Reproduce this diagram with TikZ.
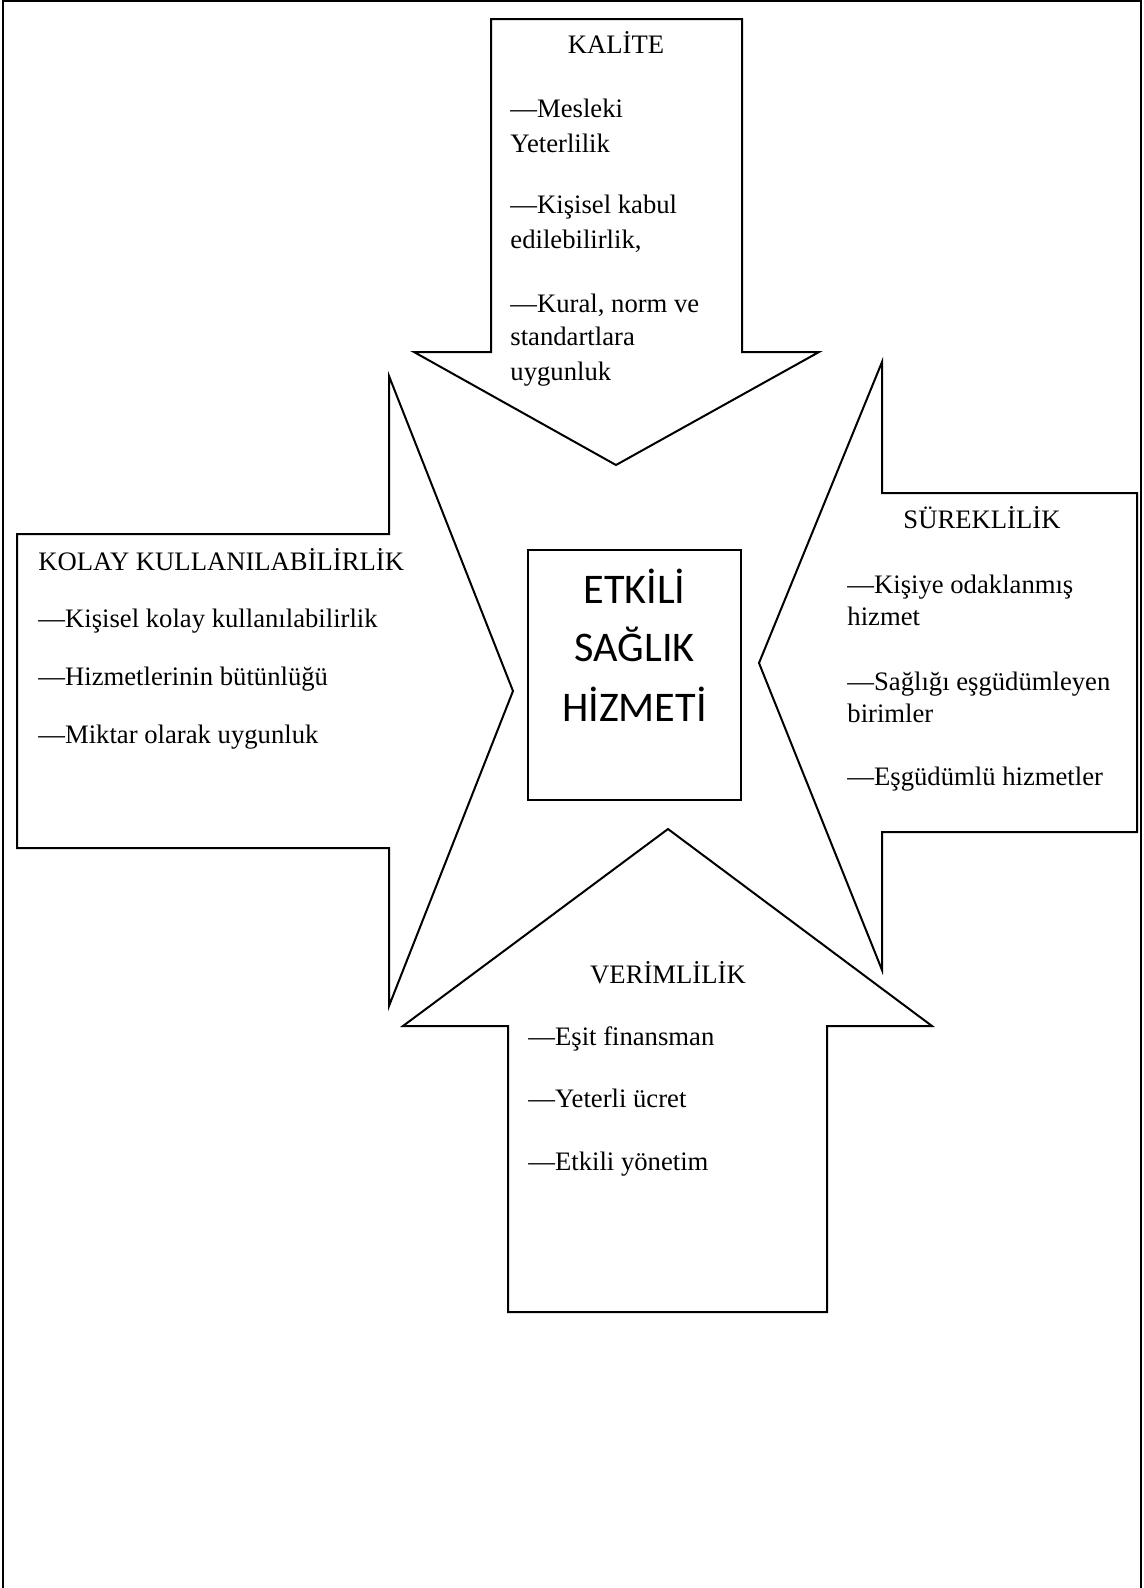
\documentclass[tikz,border=0pt]{standalone}
\usepackage{fontspec}
\setmainfont{Liberation Serif}
\newfontfamily\boxfont{Carlito}

\tikzset{
  arrowshape/.style={draw, line width=0.9pt, line join=miter, fill=white},
  boxtitle/.style={anchor=base, inner sep=0pt, font=\fontsize{12}{14}\selectfont},
  boxitem/.style={anchor=base west, inner sep=0pt, font=\fontsize{12}{14}\selectfont},
  centertext/.style={anchor=base, inner sep=0pt, font=\boxfont\fontsize{19}{23}\selectfont}
}

\begin{document}
\begin{tikzpicture}[x=0.45pt, y=-0.45pt]
  \useasboundingbox (0,0) rectangle (1144,1588);
  % page frame, open at the bottom
  \draw[line width=1.3pt] (3,1588) -- (3,1) -- (1141,1) -- (1141,1588);

  % top arrow (pointing down)
  \draw[arrowshape] (491,19) -- (742,19) -- (742,352) -- (819,352) -- (616,465)
    -- (414,352) -- (491,352) -- cycle;
  \node[boxtitle] (kalite) at (616,53) {KALİTE};
  \foreach \y/\txt in {117/—Mesleki, 152/Yeterlilik, 213/—Kişisel kabul,
      248/{edilebilirlik,}, 312/{—Kural, norm ve}, 345/standartlara, 380/uygunluk} {
    \node[boxitem] (kal\y) at (510,\y) {\txt};
  }

  % left arrow (pointing right)
  \draw[arrowshape] (17,534) -- (389,534) -- (389,376) -- (513,691) -- (389,1006)
    -- (389,848) -- (17,848) -- cycle;
  \node[boxitem] (kolay) at (38,570) {KOLAY KULLANILABİLİRLİK};
  \foreach \y/\txt in {627/—Kişisel kolay kullanılabilirlik,
      685/—Hizmetlerinin bütünlüğü, 743/—Miktar olarak uygunluk} {
    \node[boxitem] (kol\y) at (38,\y) {\txt};
  }

  % right arrow (pointing left)
  \draw[arrowshape] (1137,493) -- (882,493) -- (882,362) -- (759,663) -- (882,970)
    -- (882,832) -- (1137,832) -- cycle;
  \node[boxtitle] (sureklilik) at (982,528) {SÜREKLİLİK};
  \foreach \y/\txt in {593/—Kişiye odaklanmış, 625/hizmet,
      690/—Sağlığı eşgüdümleyen, 722/birimler, 785/—Eşgüdümlü hizmetler} {
    \node[boxitem] (sur\y) at (847,\y) {\txt};
  }

  % bottom arrow (pointing up)
  \draw[arrowshape] (508,1312) -- (508,1026) -- (403,1026) -- (668,829) -- (932,1026)
    -- (827,1026) -- (827,1312) -- cycle;
  \node[boxtitle] (verimlilik) at (668,983) {VERİMLİLİK};
  \foreach \y/\txt in {1045/—Eşit finansman, 1107/—Yeterli ücret, 1170/—Etkili yönetim} {
    \node[boxitem] (ver\y) at (528,\y) {\txt};
  }

  % centre box
  \node[draw, line width=0.9pt, minimum width=95.9pt, minimum height=112.5pt,
    inner sep=0pt] (merkez) at (634.5,675) {};
  \foreach \y/\txt in {603/ETKİLİ, 661/SAĞLIK, 721/HİZMETİ} {
    \node[centertext] (ort\y) at (634.5,\y) {\txt};
  }
\end{tikzpicture}
\end{document}
